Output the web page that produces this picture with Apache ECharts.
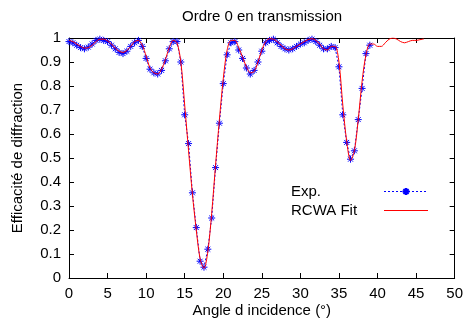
<!DOCTYPE html>
<html>
<head>
    <meta charset="utf-8">
    <title>Ordre 0 en transmission</title>
    <script src="https://cdn.jsdelivr.net/npm/echarts@6/dist/echarts.min.js"></script>
    <style>
        html, body { margin: 0; padding: 0; background: #fff; }
        #chart { width: 466px; height: 328px; }
    </style>
</head>
<body>
    <div id="chart"></div>
    <script>
    // mesures (pas de 0.5 degre)
    const expAngles = [];
    for (let i = 0; i <= 78; i++) expAngles.push(i * 0.5);
    const expValues = [
        0.985, 0.98, 0.97, 0.96, 0.955, 0.962, 0.975, 0.99, 0.995, 0.99,
        0.985, 0.97, 0.955, 0.94, 0.935, 0.945, 0.965, 0.98, 0.99, 0.965,
        0.915, 0.87, 0.855, 0.85, 0.865, 0.905, 0.955, 0.985, 0.985, 0.9,
        0.68, 0.56, 0.355, 0.21, 0.07, 0.045, 0.12, 0.25, 0.46, 0.645,
        0.81, 0.93, 0.98, 0.985, 0.95, 0.915, 0.875, 0.85, 0.865, 0.9,
        0.945, 0.98, 0.99, 0.995, 0.98, 0.965, 0.955, 0.95, 0.955, 0.965,
        0.975, 0.98, 0.99, 0.995, 0.985, 0.97, 0.955, 0.955, 0.965, 0.96,
        0.88, 0.68, 0.565, 0.495, 0.53, 0.66, 0.79, 0.935, 0.97
    ];

    // ajustement RCWA
    const fitAngles = [];
    for (let i = 0; i <= 92; i++) fitAngles.push(i * 0.5);
    const fitValues = [
        0.99, 0.985, 0.975, 0.965, 0.958, 0.96, 0.97, 0.985, 0.995, 0.995,
        0.988, 0.975, 0.958, 0.945, 0.94, 0.948, 0.965, 0.985, 0.99, 0.97,
        0.925, 0.875, 0.855, 0.85, 0.87, 0.91, 0.96, 0.99, 0.98, 0.9,
        0.72, 0.53, 0.35, 0.2, 0.08, 0.04, 0.11, 0.27, 0.47, 0.66,
        0.83, 0.95, 0.99, 0.99, 0.96, 0.92, 0.88, 0.855, 0.86, 0.9,
        0.95, 0.985, 0.997, 0.995, 0.985, 0.97, 0.955, 0.95, 0.955, 0.965,
        0.975, 0.985, 0.993, 0.997, 0.99, 0.975, 0.955, 0.95, 0.965, 0.965,
        0.9, 0.72, 0.57, 0.49, 0.53, 0.66, 0.82, 0.93, 0.975, 0.975,
        0.965, 0.965, 0.98, 0.995, 1.0, 0.995, 0.985, 0.98, 0.985, 0.99,
        0.99, 0.993, 0.996
    ];

    const font = 'Liberation Sans, Arial, sans-serif';
    const asterisk = 'path://M5,0L5,10M0,5L10,5M1.5,1.5L8.5,8.5M8.5,1.5L1.5,8.5';

    const axisCommon = {
        type: 'value',
        axisLine: { show: true, onZero: false, lineStyle: { color: '#000', width: 1 } },
        axisTick: { show: true, inside: true, length: 5, lineStyle: { color: '#000' } },
        splitLine: { show: false }
    };

    const option = {
        animation: false,
        backgroundColor: '#fff',
        color: ['#0000ff', '#ff0000'],
        title: {
            text: 'Ordre 0 en transmission',
            left: 177, top: 4,
            textStyle: { fontFamily: font, fontSize: 15, fontWeight: 'normal', color: '#000' }
        },
        grid: { left: 69, right: 11, top: 38, bottom: 50 },
        legend: {
            orient: 'vertical',
            left: 286, top: 179,
            align: 'right',
            itemGap: 4,
            itemWidth: 44, itemHeight: 9,
            lineStyle: { width: 1 },
            data: [
                { name: 'Exp.' },
                { name: 'RCWA Fit', itemStyle: { opacity: 0 } }
            ],
            formatter: function (n) { return '{n|' + n + '}'; },
            textStyle: {
                fontFamily: font, fontSize: 15, color: '#000',
                rich: { n: { width: 88, align: 'left', fontSize: 15, lineHeight: 15, fontFamily: font } }
            }
        },
        xAxis: [
            Object.assign({}, axisCommon, {
                position: 'bottom', min: 0, max: 50, interval: 5,
                name: 'Angle d incidence (°)', nameLocation: 'middle', nameGap: 25,
                nameMoveOverlap: false,
                nameTextStyle: { fontFamily: font, fontSize: 15, color: '#000', verticalAlign: 'top' },
                axisLabel: { margin: 8, fontFamily: font, fontSize: 15, color: '#000' }
            }),
            Object.assign({}, axisCommon, {
                position: 'top', min: 0, max: 50, interval: 5,
                axisLabel: { show: false }
            })
        ],
        yAxis: [
            Object.assign({}, axisCommon, {
                position: 'left', min: 0, max: 1, interval: 0.1,
                name: 'Efficacité de diffraction', nameLocation: 'middle', nameGap: 44,
                nameTextStyle: { fontFamily: font, fontSize: 15, color: '#000' },
                axisLabel: { margin: 8, fontFamily: font, fontSize: 15, color: '#000',
                    formatter: function (v) { return String(Math.round(v * 10) / 10); } }
            }),
            Object.assign({}, axisCommon, {
                position: 'right', min: 0, max: 1, interval: 0.1,
                axisLabel: { show: false }
            })
        ],
        series: [
            {
                name: 'Exp.',
                type: 'line',
                color: '#0000ff',
                data: expAngles.map(function (a, i) { return [a, expValues[i]]; }),
                symbol: asterisk,
                symbolSize: 7,
                showAllSymbol: true,
                itemStyle: { color: '#0000ff', borderColor: '#0000ff', borderWidth: 1 },
                lineStyle: { color: '#0000ff', width: 1, type: [2, 2] },
                z: 2
            },
            {
                name: 'RCWA Fit',
                type: 'line',
                color: '#ff0000',
                data: fitAngles.map(function (a, i) { return [a, fitValues[i]]; }),
                smooth: 0.3,
                showSymbol: false,
                symbol: 'none',
                itemStyle: { color: '#ff0000' },
                lineStyle: { color: '#ff0000', width: 1 },
                z: 3
            }
        ]
    };

    const chart = echarts.init(document.getElementById('chart'));
    chart.setOption(option);
    </script>
</body>
</html>
